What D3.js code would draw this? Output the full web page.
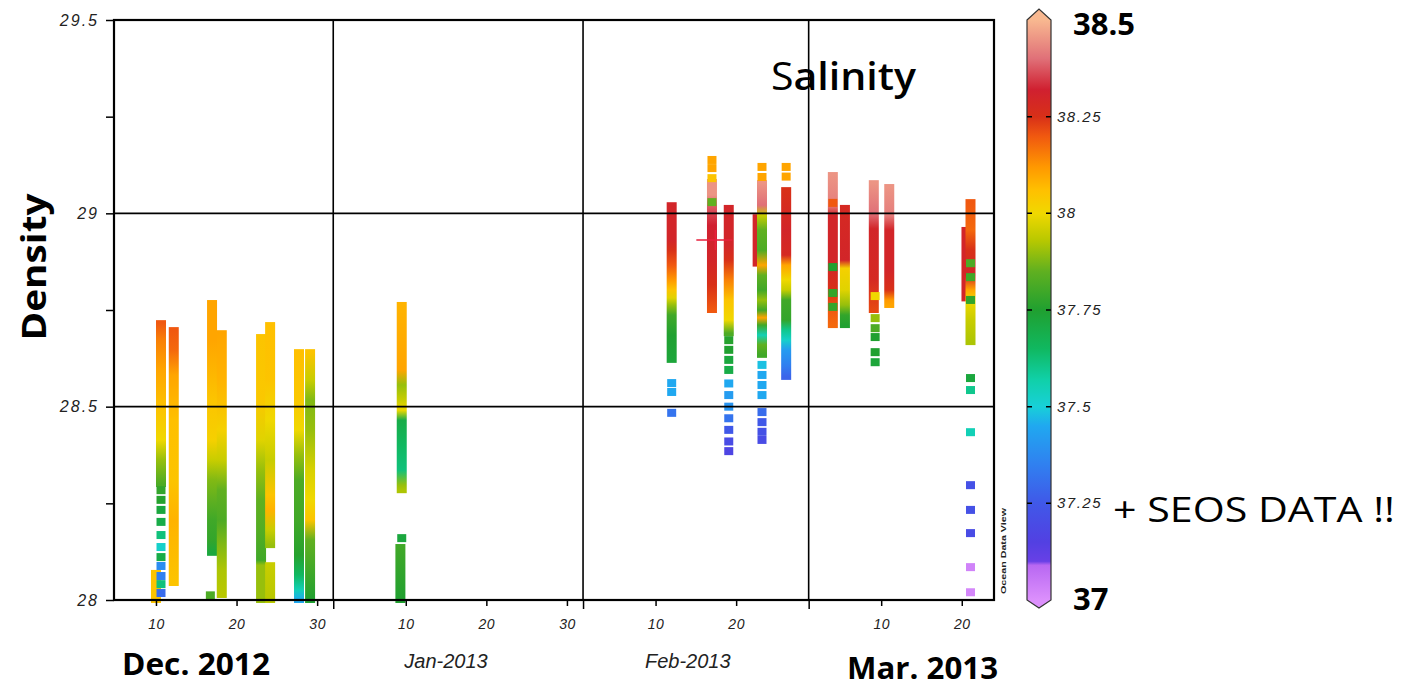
<!DOCTYPE html>
<html>
<head>
<meta charset="utf-8">
<script src="https://cdn.jsdelivr.net/npm/d3@7"></script>
<style>
  body { margin: 0; background: #fff; }
  svg { display: block; }
  .axis .tick text { font-family: "Liberation Sans", Arial, sans-serif; font-style: italic; fill: #222; }
  .axis .tick line { stroke: #000; stroke-width: 1.5; }
  .slide { font-family: "Open Sans", "Noto Sans", sans-serif; fill: #000; }
</style>
</head>
<body>
<svg id="chart"></svg>
<script>
// ---- data ----
// each profile strip: date of the cast and [density, salinity] pairs from top to bottom
const stripDates = [
  "2012-12-10T00:00", "2012-12-10T15:00", "2012-12-12T05:00", "2012-12-16T23:00",
  "2012-12-18T04:00", "2012-12-23T01:00", "2012-12-24T04:00", "2012-12-24T04:00",
  "2012-12-27T18:00", "2012-12-29T03:00", "2013-01-09T12:00", "2013-01-09T08:00",
  "2013-02-12T00:00", "2013-02-17T00:00", "2013-02-19T02:00", "2013-02-22T16:00",
  "2013-02-23T05:00", "2013-02-26T05:00", "2013-03-04T00:00", "2013-03-05T12:00",
  "2013-03-09T02:00", "2013-03-11T00:00", "2013-03-20T14:00", "2013-03-21T02:00"
];
const stripProfiles = [
  [[28.07, 38.05], [28.0, 38.05]],
  [[28.716, 38.2], [28.672, 38.15], [28.595, 38.1], [28.491, 38.05], [28.414, 38.0], [28.362, 37.9], [28.30, 37.82]],
  [[28.698, 38.2], [28.647, 38.18], [28.582, 38.1], [28.465, 38.06], [28.31, 38.05], [28.207, 38.08], [28.044, 38.05]],
  [[28.768, 38.1], [28.672, 38.1], [28.517, 38.05], [28.414, 38.02], [28.362, 37.95], [28.31, 37.88], [28.259, 37.85], [28.207, 37.8], [28.155, 37.78], [28.122, 37.72]],
  [[28.69, 38.1], [28.569, 38.08], [28.44, 38.02], [28.362, 37.95], [28.284, 37.85], [28.207, 37.82], [28.142, 37.88], [28.078, 37.92], [28.013, 37.93]],
  [[28.68, 38.05], [28.517, 38.04], [28.414, 37.98], [28.336, 37.9], [28.259, 37.85], [28.181, 37.83], [28.103, 37.8], [28.09, 37.9], [28.0, 37.9]],
  [[28.711, 38.06], [28.569, 38.05], [28.465, 38.0], [28.362, 37.95], [28.272, 38.05], [28.233, 38.08], [28.181, 37.95], [28.142, 37.9]],
  [[28.09, 37.95], [28.0, 37.93]],
  [[28.641, 38.06], [28.517, 38.04], [28.44, 38.0], [28.375, 37.9], [28.31, 37.82], [28.207, 37.8], [28.116, 37.76], [28.065, 37.65], [28.026, 37.55], [28.0, 37.45]],
  [[28.641, 38.05], [28.569, 37.95], [28.517, 37.88], [28.44, 37.9], [28.336, 37.97], [28.259, 38.0], [28.207, 38.05], [28.155, 37.85], [28.078, 37.8], [28.0, 37.75]],
  [[28.763, 38.08], [28.595, 38.1], [28.556, 37.9], [28.517, 37.95], [28.491, 38.0], [28.465, 37.7], [28.401, 37.65], [28.336, 37.62], [28.297, 37.9], [28.284, 37.92]],
  [[28.137, 37.8], [28.0, 37.75]],
  [[29.021, 38.3], [28.931, 38.3], [28.905, 38.25], [28.866, 38.2], [28.828, 38.12], [28.802, 38.05], [28.781, 37.98], [28.763, 37.9], [28.737, 37.8], [28.685, 37.75], [28.621, 37.73]],
  [[29.081, 38.45], [29.047, 38.45], [29.021, 38.38], [28.969, 38.32], [28.879, 38.3], [28.815, 38.25], [28.776, 38.22], [28.75, 38.2]],
  [[29.014, 38.3], [28.918, 38.3], [28.879, 38.25], [28.828, 38.15], [28.776, 38.05], [28.724, 38.0], [28.69, 37.82]],
  [[28.99, 38.3], [28.87, 38.3]],
  [[29.078, 38.45], [29.021, 38.4], [28.995, 37.95], [28.957, 37.85], [28.905, 37.82], [28.866, 38.1], [28.84, 37.85], [28.802, 37.8], [28.776, 37.9], [28.75, 37.8], [28.73, 38.1], [28.711, 37.8], [28.685, 37.55], [28.66, 37.85], [28.634, 37.8]],
  [[29.06, 38.25], [28.957, 38.3], [28.892, 38.28], [28.866, 38.1], [28.828, 38.0], [28.802, 37.95], [28.776, 37.8], [28.724, 37.78], [28.698, 37.6], [28.672, 37.52], [28.647, 37.42], [28.608, 37.35], [28.577, 37.28]],
  [[29.099, 38.45], [29.021, 38.42], [28.995, 38.3], [28.879, 38.3], [28.802, 38.25], [28.75, 38.2], [28.711, 38.18]],
  [[29.014, 38.28], [28.879, 38.3], [28.858, 38.02], [28.802, 37.98], [28.763, 37.9], [28.737, 37.78], [28.711, 37.75]],
  [[29.078, 38.45], [29.0, 38.4], [28.96, 38.3], [28.83, 38.28], [28.75, 38.22]],
  [[29.068, 38.45], [28.995, 38.42], [28.957, 38.3], [28.853, 38.3], [28.802, 38.25], [28.776, 38.12], [28.763, 38.1]],
  [[28.957, 38.3], [28.78, 38.3]],
  [[29.029, 38.2], [28.957, 38.18], [28.905, 38.25], [28.84, 38.3], [28.802, 38.1], [28.776, 38.0], [28.724, 37.95], [28.667, 37.92]]
];

// single bottle samples (the separate squares)
const sampleDates = [
  "2012-12-10T15:00", "2012-12-10T15:00", "2012-12-10T15:00", "2012-12-10T15:00", "2012-12-10T15:00", "2012-12-10T15:00",
  "2012-12-10T15:00", "2012-12-10T15:00", "2012-12-10T15:00", "2012-12-10T15:00", "2012-12-10T15:00",
  "2012-12-16T18:00", "2013-01-09T12:00",
  "2013-02-12T00:00", "2013-02-12T00:00", "2013-02-12T00:00",
  "2013-02-17T00:00", "2013-02-17T00:00", "2013-02-17T00:00", "2013-02-17T00:00",
  "2013-02-19T02:00", "2013-02-19T02:00", "2013-02-19T02:00", "2013-02-19T02:00", "2013-02-19T02:00", "2013-02-19T02:00",
  "2013-02-19T02:00", "2013-02-19T02:00", "2013-02-19T02:00", "2013-02-19T02:00", "2013-02-19T02:00",
  "2013-02-23T05:00", "2013-02-23T05:00", "2013-02-23T05:00", "2013-02-23T05:00", "2013-02-23T05:00",
  "2013-02-23T05:00", "2013-02-23T05:00", "2013-02-23T05:00", "2013-02-23T05:00", "2013-02-23T05:00",
  "2013-02-26T05:00", "2013-02-26T05:00",
  "2013-03-04T00:00", "2013-03-04T00:00", "2013-03-04T00:00", "2013-03-04T00:00",
  "2013-03-09T06:00", "2013-03-09T06:00", "2013-03-09T06:00", "2013-03-09T06:00", "2013-03-09T06:00", "2013-03-09T06:00",
  "2013-03-21T02:00", "2013-03-21T02:00", "2013-03-21T02:00", "2013-03-21T02:00", "2013-03-21T02:00", "2013-03-21T02:00",
  "2013-03-21T02:00", "2013-03-21T02:00", "2013-03-21T02:00", "2013-03-21T02:00", "2013-03-21T02:00"
];
const sampleDensity = [
  28.284, 28.259, 28.233, 28.202, 28.168, 28.137, 28.111, 28.088, 28.062, 28.041, 28.018,
  28.012, 28.16,
  28.561, 28.538, 28.484,
  29.138, 29.117, 29.091, 29.029,
  28.672, 28.647, 28.621, 28.595, 28.56, 28.53, 28.50, 28.47, 28.44, 28.41, 28.385,
  29.12, 29.094, 28.608, 28.582, 28.556, 28.53, 28.486, 28.46, 28.435, 28.414,
  29.12, 29.095,
  29.027, 28.861, 28.794, 28.758,
  28.786, 28.729, 28.703, 28.68, 28.641, 28.615,
  28.871, 28.835, 28.776, 28.574, 28.543, 28.434, 28.297, 28.233, 28.173, 28.085, 28.02
];
const sampleSalinity = [
  37.78, 37.76, 37.72, 37.70, 37.62, 37.52, 37.70, 37.38, 37.35, 37.62, 37.30,
  37.82, 37.72,
  37.45, 37.45, 37.32,
  38.10, 38.10, 38.05, 37.85,
  37.76, 37.75, 37.72, 37.70, 37.45, 37.42, 37.40, 37.32, 37.25, 37.20, 37.17,
  38.10, 38.10, 37.48, 37.45, 37.45, 37.45, 37.30, 37.25, 37.22, 37.20,
  38.10, 38.10,
  38.20, 37.75, 37.78, 37.78,
  38.00, 37.90, 37.82, 37.75, 37.75, 37.73,
  37.82, 37.80, 37.78, 37.72, 37.60, 37.55, 37.22, 37.22, 37.20, 37.03, 37.02
];

// red cross marker
const crossDate = "2013-02-17T10:00";
const crossDensity = 28.931;

// axes
const densityTicks = [28, 28.25, 28.5, 28.75, 29, 29.25, 29.5];
const densityGrid = [28.5, 29];
const dayTicks = ["2012-12-10T00:00", "2012-12-20T00:00", "2012-12-30T00:00", "2013-01-10T00:00", "2013-01-20T00:00",
  "2013-01-30T00:00", "2013-02-10T00:00", "2013-02-20T00:00", "2013-03-10T00:00", "2013-03-20T00:00"];
const monthStarts = ["2013-01-01T00:00", "2013-02-01T00:00", "2013-03-01T00:00"];
const colorbarTicks = [37.25, 37.5, 37.75, 38, 38.25];

// ODV-like salinity palette
const salStops = [37.0, 37.09, 37.1, 37.15, 37.25, 37.35, 37.45, 37.5, 37.57, 37.65, 37.75, 37.85, 37.93, 38.0, 38.06, 38.12, 38.2, 38.25, 38.32, 38.4, 38.5];
const salColors = ["#dc90fc", "#b868f2", "#6840e6", "#5240e2", "#4058e8", "#3080f0", "#20a8f0", "#18d0d8", "#10d0a8", "#10b860", "#20a030", "#60b020", "#b8c800", "#f0d800", "#ffc000", "#ff9800", "#f05810", "#d83018", "#d02030", "#e07078", "#f8b890"];

// ---- drawing ----
const config = { width: 1410, height: 687, left: 114, right: 994, top: 20, bottom: 600, stripWidth: 10 };
const parse = d3.timeParse("%Y-%m-%dT%H:%M");

const svg = d3.select("#chart").attr("width", config.width).attr("height", config.height);
const defs = svg.append("defs");

const x = d3.scaleTime()
  .domain([parse("2012-12-04T19:00"), parse("2013-03-24T00:00")])
  .range([config.left, config.right]);
const y = d3.scaleLinear().domain([28, 29.5]).range([config.bottom, config.top]);
const color = d3.scaleLinear().domain(salStops).range(salColors).clamp(true);

// strips
const strips = stripDates.map((d, i) => ({ date: parse(d), knots: stripProfiles[i] }));
strips.forEach((s, i) => {
  const y0 = y(s.knots[0][0]), y1 = y(s.knots[s.knots.length - 1][0]);
  const g = defs.append("linearGradient").attr("id", "strip" + i)
    .attr("gradientUnits", "userSpaceOnUse")
    .attr("x1", 0).attr("x2", 0).attr("y1", y0).attr("y2", y1);
  g.selectAll("stop").data(s.knots).join("stop")
    .attr("offset", k => (y(k[0]) - y0) / (y1 - y0))
    .attr("stop-color", k => color(k[1]));
});

const dataG = svg.append("g");
dataG.selectAll("rect.strip").data(strips).join("rect")
  .attr("class", "strip")
  .attr("x", d => x(d.date) - config.stripWidth / 2)
  .attr("width", config.stripWidth)
  .attr("y", d => y(d.knots[0][0]) - 3)
  .attr("height", d => y(d.knots[d.knots.length - 1][0]) - y(d.knots[0][0]) + 6)
  .attr("fill", (d, i) => `url(#strip${i})`);

const samples = sampleDates.map((d, i) => ({ date: parse(d), dens: sampleDensity[i], sal: sampleSalinity[i] }));
dataG.selectAll("rect.sample").data(samples).join("rect")
  .attr("class", "sample")
  .attr("x", d => x(d.date) - 4.5)
  .attr("y", d => y(d.dens) - 4)
  .attr("width", 9).attr("height", 8)
  .attr("fill", d => color(d.sal));

// red cross
const cx = x(parse(crossDate)), cy = y(crossDensity);
dataG.append("path")
  .attr("d", `M${cx - 19},${cy}H${cx + 17}M${cx},${cy - 10}V${cy + 10}`)
  .attr("stroke", "#e8203c").attr("stroke-width", 1.5);

// grid lines
const gridG = svg.append("g").attr("stroke", "#000").attr("stroke-width", 1.6);
gridG.selectAll("line.h").data(densityGrid).join("line")
  .attr("x1", config.left).attr("x2", config.right)
  .attr("y1", d => y(d)).attr("y2", d => y(d));
gridG.selectAll("line.v").data(monthStarts.map(parse)).join("line")
  .attr("x1", d => x(d)).attr("x2", d => x(d))
  .attr("y1", config.top).attr("y2", config.bottom);

// frame
svg.append("rect")
  .attr("x", config.left).attr("y", config.top)
  .attr("width", config.right - config.left).attr("height", config.bottom - config.top)
  .attr("fill", "none").attr("stroke", "#000").attr("stroke-width", 2.2);

// y axis
const yAxis = svg.append("g").attr("class", "axis")
  .attr("transform", `translate(${config.left},0)`)
  .call(d3.axisLeft(y).tickValues(densityTicks).tickSize(8).tickPadding(7)
    .tickFormat(d => (d * 2) % 1 === 0 ? d : ""));
yAxis.select(".domain").remove();
yAxis.selectAll(".tick text").attr("font-size", 16).style("letter-spacing", "2px");

// x axis
const xAxis = svg.append("g").attr("class", "axis")
  .attr("transform", `translate(0,${config.bottom})`)
  .call(d3.axisBottom(x).tickValues(dayTicks.map(parse)).tickSize(6).tickPadding(13)
    .tickFormat(d3.timeFormat("%-d")));
xAxis.select(".domain").remove();
xAxis.selectAll(".tick text").attr("font-size", 14).style("letter-spacing", "0.5px");

const mAxis = svg.append("g").attr("class", "axis")
  .attr("transform", `translate(0,${config.bottom})`)
  .call(d3.axisBottom(x).tickValues(monthStarts.map(parse)).tickSize(9).tickFormat(""));
mAxis.select(".domain").remove();

// month names
svg.append("text").attr("x", x(parse("2013-01-15T00:00"))).attr("y", 668)
  .attr("text-anchor", "middle").attr("font-family", "Liberation Sans, Arial, sans-serif")
  .attr("font-style", "italic").attr("font-size", 20).attr("fill", "#222").text("Jan-2013");
svg.append("text").attr("x", x(parse("2013-02-14T00:00"))).attr("y", 668)
  .attr("text-anchor", "middle").attr("font-family", "Liberation Sans, Arial, sans-serif")
  .attr("font-style", "italic").attr("font-size", 20).attr("fill", "#222").text("Feb-2013");

svg.append("text").attr("class", "slide").attr("x", 122).attr("y", 675)
  .attr("font-size", 31).attr("font-weight", 700)
  .attr("textLength", 148).attr("lengthAdjust", "spacingAndGlyphs").text("Dec. 2012");
svg.append("text").attr("class", "slide").attr("x", 847).attr("y", 679)
  .attr("font-size", 30).attr("font-weight", 700)
  .attr("textLength", 151).attr("lengthAdjust", "spacingAndGlyphs").text("Mar. 2013");

// axis title
svg.append("text").attr("class", "slide")
  .attr("transform", "translate(46,267) rotate(-90)")
  .attr("text-anchor", "middle").attr("font-size", 34).attr("font-weight", 700)
  .attr("textLength", 147).attr("lengthAdjust", "spacingAndGlyphs").text("Density");

const title = svg.append("text").attr("class", "slide").attr("x", 771).attr("y", 90)
  .attr("font-size", 38).attr("textLength", 145).attr("lengthAdjust", "spacingAndGlyphs");
title.append("tspan").attr("font-weight", 400).text("S");
title.append("tspan").attr("font-weight", 600).text("alinity");

// ODV tag
svg.append("text")
  .attr("transform", "translate(1006,594) rotate(-90)")
  .attr("font-family", "Liberation Sans, Arial, sans-serif").attr("font-size", 8).attr("font-weight", 700)
  .attr("fill", "#222").attr("textLength", 86).attr("lengthAdjust", "spacingAndGlyphs").text("Ocean Data View");

// colorbar
const cb = { x: 1027, w: 24 };
const yc = d3.scaleLinear().domain([37, 38.5]).range([config.bottom, config.top]);
const cg = defs.append("linearGradient").attr("id", "cbar")
  .attr("gradientUnits", "userSpaceOnUse")
  .attr("x1", 0).attr("x2", 0).attr("y1", yc(37)).attr("y2", yc(38.5));
cg.selectAll("stop").data(salStops).join("stop")
  .attr("offset", d => (d - 37) / 1.5)
  .attr("stop-color", d => color(d));

const cbG = svg.append("g");
cbG.append("rect").attr("x", cb.x).attr("y", yc(38.5)).attr("width", cb.w)
  .attr("height", yc(37) - yc(38.5)).attr("fill", "url(#cbar)");
cbG.append("path")
  .attr("d", `M${cb.x},${yc(38.5)}L${cb.x + cb.w / 2},${yc(38.5) - 11}L${cb.x + cb.w},${yc(38.5)}Z`)
  .attr("fill", color(38.5));
cbG.append("path")
  .attr("d", `M${cb.x},${yc(37)}L${cb.x + cb.w / 2},${yc(37) + 8}L${cb.x + cb.w},${yc(37)}Z`)
  .attr("fill", color(37));
cbG.append("path")
  .attr("d", `M${cb.x},${yc(38.5)}L${cb.x + cb.w / 2},${yc(38.5) - 11}L${cb.x + cb.w},${yc(38.5)}V${yc(37)}L${cb.x + cb.w / 2},${yc(37) + 8}L${cb.x},${yc(37)}Z`)
  .attr("fill", "none").attr("stroke", "#333").attr("stroke-width", 1.2);
cbG.selectAll("path.tk").data(colorbarTicks).join("path")
  .attr("class", "tk")
  .attr("d", d => `M${cb.x},${yc(d)}h5M${cb.x + cb.w - 5},${yc(d)}h5`)
  .attr("stroke", "#000").attr("stroke-width", 1.5);
cbG.selectAll("text.tl").data(colorbarTicks).join("text")
  .attr("class", "tl")
  .attr("x", cb.x + cb.w + 6).attr("y", d => yc(d) + 5)
  .attr("font-family", "Liberation Sans, Arial, sans-serif").attr("font-style", "italic")
  .attr("font-size", 15).attr("fill", "#222").style("letter-spacing", "1.5px")
  .text(d => d);

svg.append("text").attr("class", "slide").attr("x", 1073).attr("y", 35)
  .attr("font-size", 31).attr("font-weight", 700).text("38.5");
svg.append("text").attr("class", "slide").attr("x", 1073).attr("y", 610)
  .attr("font-size", 31).attr("font-weight", 700).text("37");

svg.append("text").attr("class", "slide").attr("x", 1113).attr("y", 522)
  .attr("font-size", 35).attr("textLength", 282).attr("lengthAdjust", "spacingAndGlyphs").text("+ SEOS DATA !!");
</script>
</body>
</html>
